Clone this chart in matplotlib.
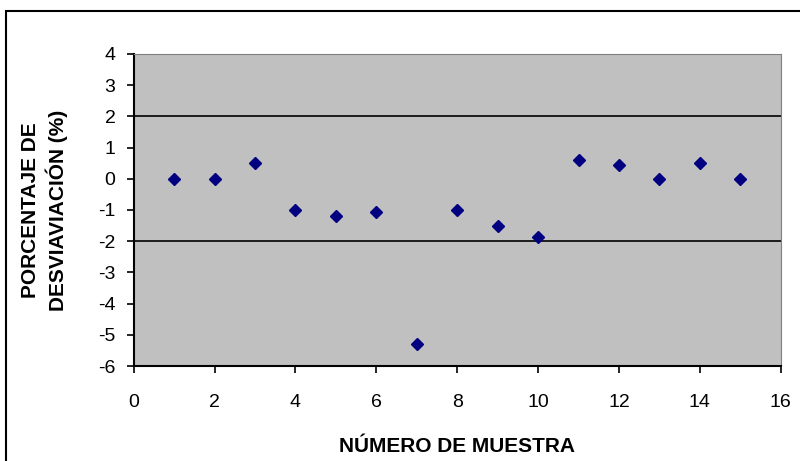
import matplotlib.pyplot as plt
from matplotlib.patches import Rectangle

plt.rcParams['font.family'] = ['Liberation Sans', 'DejaVu Sans']
plt.rcParams['axes.unicode_minus'] = False

# datos
muestra = [1, 2, 3, 4, 5, 6, 7, 8, 9, 10, 11, 12, 13, 14, 15]
desviacion = [0, 0, 0.5, -1.0, -1.2, -1.05, -5.3, -1.0, -1.5, -1.85, 0.6, 0.45, 0, 0.5, 0]
limites = [2, -2]

fig = plt.figure(figsize=(8, 4.61), dpi=100)
ax = fig.add_axes([0.167, 0.206, 0.809, 0.677])
ax.set_facecolor('#C0C0C0')

for lim in limites:
    ax.axhline(lim, color='black', lw=1.2, zorder=1)

ax.plot(muestra, desviacion, linestyle='none', marker='D', ms=6.5,
        color='#000080', zorder=3)

ax.set_xlim(0, 16)
ax.set_ylim(-6, 4)
ax.set_xticks(range(0, 17, 2))
ax.set_yticks(range(-6, 5, 1))
ax.tick_params(direction='out', length=5, width=1.2, labelsize=14, colors='black')
ax.tick_params(axis='x', pad=15)
ax.tick_params(axis='y', pad=8)

ax.spines['left'].set_linewidth(1.5)
ax.spines['bottom'].set_linewidth(1.5)
ax.spines['top'].set_color('#808080')
ax.spines['right'].set_color('#808080')

ax.set_xlabel('NÚMERO DE MUESTRA', fontsize=15, fontweight='bold')
ax.set_ylabel('PORCENTAJE DE\nDESVIAVIACIÓN (%)', fontsize=15, fontweight='bold',
              linespacing=1.3)
ax.xaxis.set_label_coords(0.5, -0.228)
ax.yaxis.set_label_coords(-0.101, 0.5)

# marco exterior del grafico
fig.patches.append(Rectangle((6 / 800, -0.1), 1.1, 1.1 - 11 / 461,
                             transform=fig.transFigure, fill=False,
                             edgecolor='black', lw=1.5))

fig.savefig('out.png', dpi=100)
